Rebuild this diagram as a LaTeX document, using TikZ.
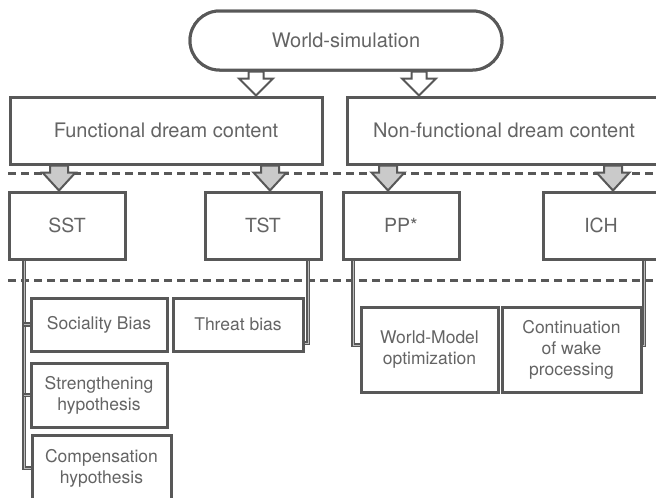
\documentclass[tikz,border=0pt]{standalone}
\usepackage{fontspec}
\setmainfont{TeX Gyre Heros}
\usetikzlibrary{calc}
\definecolor{edge}{RGB}{88,88,88}
\definecolor{ink}{RGB}{100,100,100}
\definecolor{headfill}{RGB}{202,202,202}

% block arrow: style, stem half width, head half width, top point, tip point
\newcommand\blockarrow[5]{%
  \draw[#1] ($(#4)+(-#2,0)$) -- ($(#4)+(-#2,7)$) -- ($(#4)+(-#3,7)$) -- (#5)
    -- ($(#4)+(#3,7)$) -- ($(#4)+(#2,7)$) -- ($(#4)+(#2,0)$) -- cycle;}

\tikzset{
  box/.style={draw=edge, line width=3pt, fill=white, text=ink, inner sep=0pt,
    align=center, font=\fontsize{20}{24}\selectfont},
  midbox/.style={box, minimum width=116pt, minimum height=67pt,
    font=\fontsize{19.5}{23}\selectfont},
  leafbox/.style={box, font=\fontsize{17.5}{21}\selectfont},
  sep/.style={draw=edge, line width=3pt, dash pattern=on 8pt off 5pt},
  hollow/.style={draw=edge, line width=2pt, fill=white, line join=miter},
  solidhead/.style={draw=edge, line width=2pt, fill=headfill, line join=miter},
  link/.style={draw=edge, line width=1.8pt, double=edge!40, double distance=1pt}
}

\begin{document}
\begin{tikzpicture}[x=1pt, y=-1pt]
\useasboundingbox (0,0) rectangle (656,498);
\clip (0,0) rectangle (656,498);

% separators between the levels
\draw[sep] (8,173) -- (664,173);
\draw[sep] (8,280) -- (664,280);

% boxes
\node[box, rounded corners=29.5pt, minimum width=312pt, minimum height=59pt]
  (ws) at (346,40.5) {World-simulation};
\node[box, minimum width=312pt, minimum height=67pt]
  (fdc) at (166,130.5) {Functional dream content};
\node[box, minimum width=314pt, minimum height=67pt]
  (nfdc) at (504,130.5) {Non-functional dream content};

\node[midbox] (sst) at (67,225.5) {SST};
\node[midbox] (tst) at (263,225.5) {TST};
\node[midbox] (pp)  at (401,225.5) {PP*};
\node[midbox] (ich) at (601,225.5) {ICH};

% arrows between the first two levels
\coordinate (h1) at (256,0 |- ws.south);
\coordinate (h2) at (419,0 |- ws.south);
\blockarrow{hollow}{7.5}{17}{h1}{h1 |- fdc.north}
\blockarrow{hollow}{7.5}{17}{h2}{h2 |- nfdc.north}

\coordinate (g1) at (59,0 |- fdc.south);
\coordinate (g2) at (270,0 |- fdc.south);
\coordinate (g3) at (388,0 |- nfdc.south);
\coordinate (g4) at (613,0 |- nfdc.south);
\blockarrow{solidhead}{9}{16.5}{g1}{g1 |- sst.north}
\blockarrow{solidhead}{9}{16.5}{g2}{g2 |- tst.north}
\blockarrow{solidhead}{9}{16.5}{g3}{g3 |- pp.north}
\blockarrow{solidhead}{9}{16.5}{g4}{g4 |- ich.north}

% redraw the boxes over the arrow ends
\node[box, rounded corners=29.5pt, minimum width=312pt, minimum height=59pt]
  at (ws) {World-simulation};
\node[box, minimum width=312pt, minimum height=67pt] at (fdc) {Functional dream content};
\node[box, minimum width=314pt, minimum height=67pt] at (nfdc) {Non-functional dream content};
\node[midbox] at (sst) {SST};
\node[midbox] at (tst) {TST};
\node[midbox] at (pp) {PP*};
\node[midbox] at (ich) {ICH};

% leaf boxes
\node[leafbox, minimum width=136pt, minimum height=53pt] (soc) at (99,324.5) {Sociality Bias};
\node[leafbox, minimum width=130pt, minimum height=53pt] (thr) at (238,324.5) {Threat bias};
\node[leafbox, minimum width=136pt, minimum height=64pt] (str) at (99,395) {Strengthening\\hypothesis};
\node[leafbox, minimum width=139pt, minimum height=66pt] (comp) at (101.5,468) {Compensation\\hypothesis};
\node[leafbox, minimum width=137pt, minimum height=85pt] (wmo) at (429.5,349.5) {World-Model\\optimization};
\node[leafbox, minimum width=139pt, minimum height=85pt] (cwp) at (571.5,349.5) {Continuation\\of wake\\processing};

% brackets from each theory to its contents
\draw[link] (24,0 |- sst.south) -- (24,0 |- comp.west) -- (comp.west);
\draw[link] (24,0 |- soc.west) -- (soc.west);
\draw[link] (24,0 |- str.west) -- (str.west);
\draw[link] (308,0 |- tst.south) -- (308,343) -- (308,343 -| thr.east);
\draw[link] (353,0 |- pp.south) -- (353,345) -- (353,345 -| wmo.west);
\draw[link] (644,0 |- ich.south) -- (644,345) -- (644,345 -| cwp.east);
\end{tikzpicture}
\end{document}
